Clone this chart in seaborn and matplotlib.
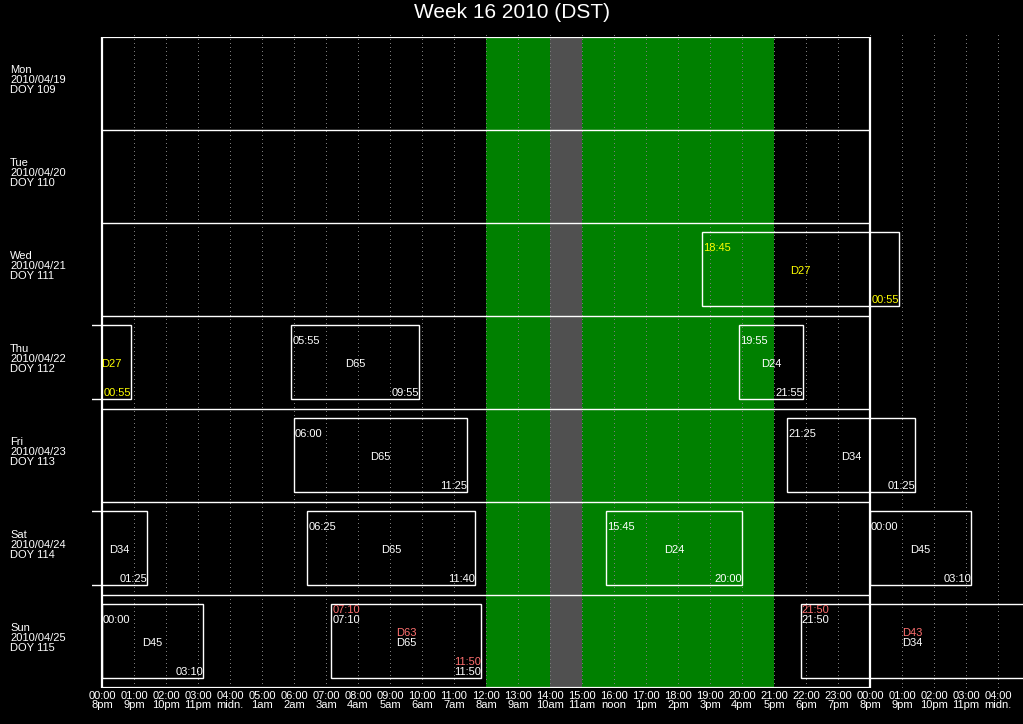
import matplotlib
matplotlib.use("Agg")
import matplotlib.pyplot as plt
import matplotlib.patches as mpatches
import seaborn as sns

# rows (days of the week)
days = ["Mon", "Tue", "Wed", "Thu", "Fri", "Sat", "Sun"]
dates = ["2010/04/19", "2010/04/20", "2010/04/21", "2010/04/22",
         "2010/04/23", "2010/04/24", "2010/04/25"]
doys = [109, 110, 111, 112, 113, 114, 115]

# x axis: hours 0..28 with two label lines
tick_hours = list(range(29))
tick_utc = ["00:00", "01:00", "02:00", "03:00", "04:00", "05:00", "06:00", "07:00",
            "08:00", "09:00", "10:00", "11:00", "12:00", "13:00", "14:00", "15:00",
            "16:00", "17:00", "18:00", "19:00", "20:00", "21:00", "22:00", "23:00",
            "00:00", "01:00", "02:00", "03:00", "04:00"]
tick_local = ["8pm", "9pm", "10pm", "11pm", "midn.", "1am", "2am", "3am", "4am", "5am",
              "6am", "7am", "8am", "9am", "10am", "11am", "noon", "1pm", "2pm", "3pm",
              "4pm", "5pm", "6pm", "7pm", "8pm", "9pm", "10pm", "11pm", "midn."]

# shaded bands (hours)
green_band = (12.0, 21.0)
gray_band = (14.0, 15.0)

# events
ev_label = ["D27", "D65", "D24", "D65", "D34", "D65", "D24", "D45", "D65", "D34"]
ev_day = [2, 3, 3, 4, 4, 5, 5, 6, 6, 6]
ev_start = ["18:45", "05:55", "19:55", "06:00", "21:25", "06:25", "15:45", "00:00", "07:10", "21:50"]
ev_end = ["00:55", "09:55", "21:55", "11:25", "01:25", "11:40", "20:00", "03:10", "11:50", "05:50"]
ev_next_day = [1, 0, 0, 0, 1, 0, 0, 0, 0, 1]
ev_color = ["#ffff00"] + ["white"] * 9
alt_label = [None] * 8 + ["D63", "D43"]
alt_start = [None] * 8 + ["07:10", "21:50"]
alt_end = [None] * 8 + ["11:50", "05:50"]
alt_color = "#ff7070"


def hours(s):
    h, m = s.split(":")
    return int(h) + int(m) / 60.0


sns.set_theme(style="dark", rc={"axes.facecolor": "black", "figure.facecolor": "black",
                                "savefig.facecolor": "black", "text.color": "white",
                                "xtick.color": "white", "axes.grid": False})
plt.rcParams["font.family"] = ["Liberation Sans", "DejaVu Sans"]

W, H = 1023, 724
fig = plt.figure(figsize=(W / 100, H / 100), dpi=100)
ax = fig.add_axes([92 / W, (H - 688) / H, (W - 92) / W, (688 - 37) / H])
xmin, xmax = -10 / 32, (W - 102) / 32
ax.set_xlim(xmin, xmax)
ax.set_ylim(7, 0)
for s in ax.spines.values():
    s.set_visible(False)

ax.axvspan(*green_band, color="#008000", lw=0, zorder=0)
ax.axvspan(*gray_band, color="#505050", lw=0, zorder=0.5)
grid = ax.vlines(tick_hours[1:], -0.02, 7, colors="#7a7a7a", linestyles=(0, (1, 3)),
                 lw=0.72, zorder=1, clip_on=False)
grid.set_antialiased(False)
ax.hlines(range(1, 7), 0, 24, colors="white", lw=1, zorder=3)
ax.add_patch(mpatches.Rectangle((0, 0), 24, 7, fill=False, ec="white", lw=1.6, zorder=4))

ax.set_xticks(tick_hours)
ax.set_xticklabels([f"{a}\n{b}" for a, b in zip(tick_utc, tick_local)],
                   fontsize=8, linespacing=0.95, color="white")
ax.tick_params(axis="x", length=0, pad=2)
ax.set_yticks([])

for i in range(7):
    fig.text(10 / W, 1 - (37 + 93 * i + 43) / H, f"{days[i]}\n{dates[i]}\nDOY {doys[i]}",
             ha="left", va="center", fontsize=8, linespacing=0.95, color="white")

fs = 8
row_px = 93.0
for k in range(len(ev_label)):
    s_h = hours(ev_start[k])
    e_h = hours(ev_end[k]) + 24 * ev_next_day[k]
    for r in range(7):
        x0 = s_h + 24 * (ev_day[k] - r)
        x1 = e_h + 24 * (ev_day[k] - r)
        if x1 < xmin or x0 > xmax:
            continue
        top, bot = r + 0.1, r + 0.89
        ax.add_patch(mpatches.Rectangle((x0, top), x1 - x0, bot - top, fill=False,
                                        ec="white", lw=1, zorder=5, clip_on=True))
        vx0, vx1 = max(x0, xmin), min(x1, xmax)
        mid = (vx0 + vx1) / 2
        c = ev_color[k]
        ax.text(mid, (top + bot) / 2 + 2 / row_px, ev_label[k], color=c, fontsize=fs,
                ha="center", va="center", zorder=6, clip_on=True)
        if x0 >= xmin:
            ax.text(x0 + 0.03, top + 16 / row_px, ev_start[k], color=c, fontsize=fs,
                    ha="left", va="center", zorder=6, clip_on=True)
        if x1 <= xmax:
            ax.text(x1, bot - 6 / row_px, ev_end[k], color=c, fontsize=fs,
                    ha="right", va="center", zorder=6, clip_on=True)
        if alt_label[k] is not None:
            ax.text(mid, (top + bot) / 2 - 8 / row_px, alt_label[k], color=alt_color,
                    fontsize=fs, ha="center", va="center", zorder=6, clip_on=True)
            if x0 >= xmin:
                ax.text(x0 + 0.03, top + 6 / row_px, alt_start[k], color=alt_color,
                        fontsize=fs, ha="left", va="center", zorder=6, clip_on=True)
            if x1 <= xmax:
                ax.text(x1, bot - 16 / row_px, alt_end[k], color=alt_color,
                        fontsize=fs, ha="right", va="center", zorder=6, clip_on=True)

fig.text(0.5, 1 - 12 / H, "Week 16 2010 (DST)", ha="center", va="center",
         fontsize=15, color="white")

fig.savefig("out.png", dpi=100, facecolor="black")
